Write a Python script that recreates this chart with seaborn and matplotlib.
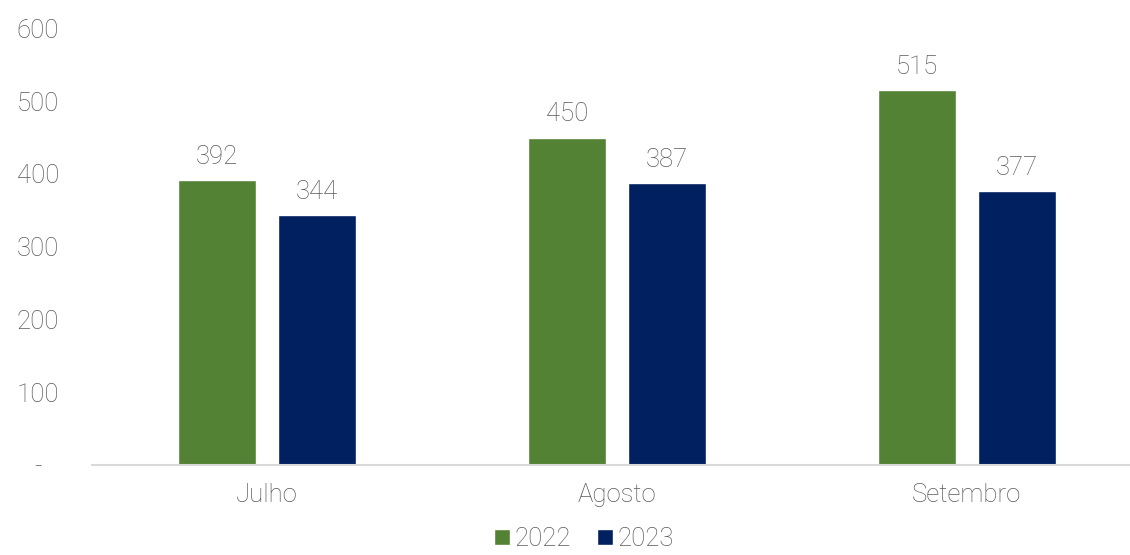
import matplotlib
matplotlib.use("Agg")
import matplotlib.pyplot as plt
import seaborn as sns
import pandas as pd
from matplotlib.patches import Patch

months = ["Julho", "Agosto", "Setembro"]
years = ["2022", "2023"]
values_2022 = [392, 450, 515]
values_2023 = [344, 387, 377]
yticks = [0, 100, 200, 300, 400, 500, 600]
ytick_labels = ["-", "100", "200", "300", "400", "500", "600"]
colors = {"2022": "#548235", "2023": "#002060"}

df = pd.DataFrame({
    "mes": months * 2,
    "ano": ["2022"] * 3 + ["2023"] * 3,
    "valor": values_2022 + values_2023,
})

sns.set_theme(style="white")
plt.rcParams["font.family"] = ["Roboto", "DejaVu Sans"]
text_color = "#595959"
weight = "light"
fs = 18.5

fig = plt.figure(figsize=(11.3, 5.55), dpi=100)
ax = fig.add_axes([0.0814, 0.162, 0.929, 0.787])

sns.barplot(data=df, x="mes", y="valor", hue="ano", order=months,
            hue_order=years, palette=colors, width=0.571, gap=0.22,
            saturation=1, legend=False, ax=ax)

for container in ax.containers:
    for bar in container:
        h = bar.get_height()
        ax.annotate(f"{h:.0f}", (bar.get_x() + bar.get_width() / 2, h),
                    xytext=(0, 8), textcoords="offset points",
                    ha="center", va="bottom", fontsize=fs,
                    color=text_color, fontweight=weight)

ax.set_ylim(0, 600)
ax.set_xlim(-0.5, 2.5)
ax.set_yticks(yticks)
ax.set_yticklabels(ytick_labels)
ax.set_xlabel("")
ax.set_ylabel("")
ax.tick_params(axis="both", length=0, labelsize=fs, colors=text_color)
ax.tick_params(axis="x", pad=13)
ax.tick_params(axis="y", pad=39)
for lab in ax.get_yticklabels():
    lab.set_horizontalalignment("center")
for lab in ax.get_xticklabels() + ax.get_yticklabels():
    lab.set_fontweight(weight)

for side in ["top", "right", "left"]:
    ax.spines[side].set_visible(False)
ax.spines["bottom"].set_color("#d9d9d9")
ax.spines["bottom"].set_linewidth(1.5)

handles = [Patch(facecolor=colors[y], label=y) for y in years]
fig.legend(handles=handles, loc="lower center", ncol=2, frameon=False,
           bbox_to_anchor=(0.517, -0.034), handlelength=0.6,
           handleheight=0.6, handletextpad=0.2, columnspacing=1.0,
           labelcolor=text_color, prop={"weight": weight, "size": fs})

fig.savefig("out.png", dpi=100)
